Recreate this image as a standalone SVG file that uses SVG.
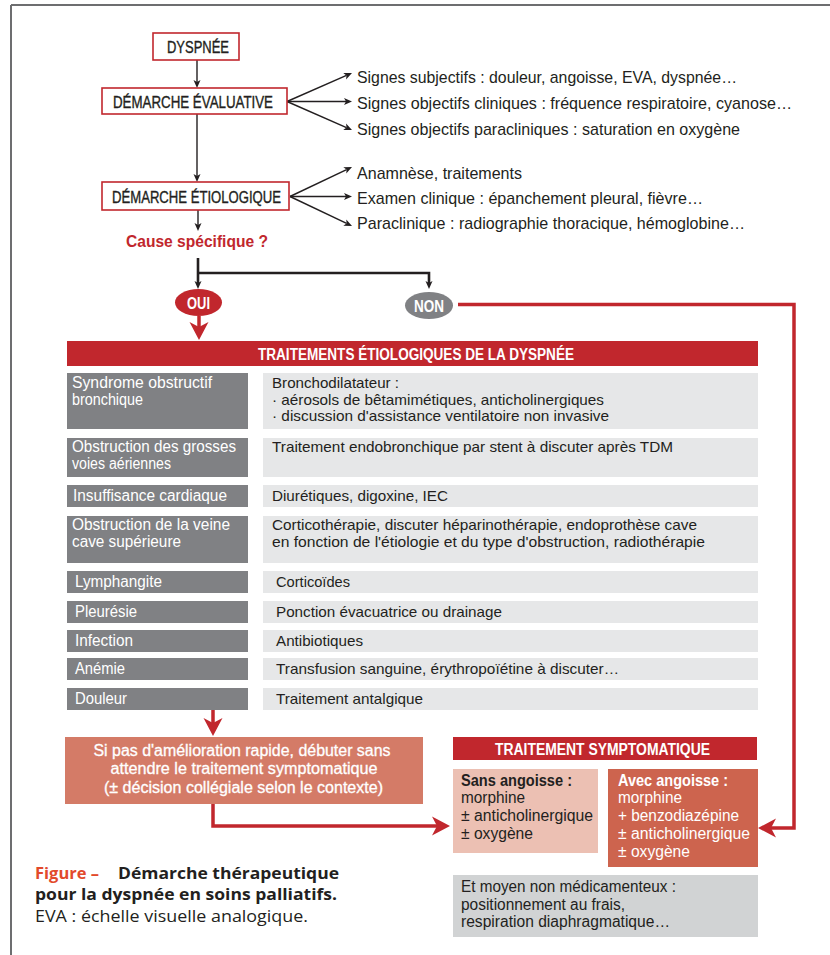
<svg xmlns="http://www.w3.org/2000/svg" width="830" height="955" viewBox="0 0 830 955">
<style>
text{font-family:"Liberation Sans",Arial,sans-serif;fill:#231f20}
.t17{font-size:17px}
.t16{font-size:16px}
.t15{font-size:15px}
.w{fill:#fff}
.b{font-weight:bold}
.md{stroke:#231f20;stroke-width:0.35}
.mw{stroke:#fff;stroke-width:0.3}
.mid{text-anchor:middle}
.red{fill:#c1272d}
.box{fill:#fff;stroke:#c1272d;stroke-width:1.6}
.lc{fill:#808184}
.rc{fill:#e6e7e8}
.blk{fill:none;stroke:#231f20;stroke-width:1.4}
.blk2{fill:none;stroke:#231f20;stroke-width:2.6}
.rl{fill:none;stroke:#c1272d;stroke-width:3.5}
.cap{font-family:"Open Sans","Noto Sans",sans-serif;font-size:16.5px}
</style>
<defs>
<marker id="ab" markerUnits="userSpaceOnUse" markerWidth="8" markerHeight="7" refX="2" refY="3.5" orient="auto" overflow="visible"><path d="M0,0 L8,3.5 L0,7 L2,3.5 z" fill="#231f20"/></marker>
<marker id="ar" markerUnits="userSpaceOnUse" markerWidth="18" markerHeight="19" refX="5" refY="9.5" orient="auto" overflow="visible"><path d="M0,0 L18,9.5 L0,19 L5,9.5 z" fill="#c1272d"/></marker>
</defs>

<g id="frame"><path d="M11,5 H830 M11,5 V955" fill="none" stroke="#6d6e70" stroke-width="2"/></g>

<g id="connectors">
<path class="blk" d="M197,60 V82" marker-end="url(#ab)"/>
<path class="blk" d="M197,114 V176" marker-end="url(#ab)"/>
<path class="blk" d="M198,210 V225" marker-end="url(#ab)"/>
<path class="blk" d="M287,101.5 L346.5,75.4" marker-end="url(#ab)"/>
<path class="blk" d="M287,101.5 L346,101.5" marker-end="url(#ab)"/>
<path class="blk" d="M287,101.5 L346.5,127.6" marker-end="url(#ab)"/>
<path class="blk" d="M290,196.5 L346.6,169.6" marker-end="url(#ab)"/>
<path class="blk" d="M290,196.5 L346,196.5" marker-end="url(#ab)"/>
<path class="blk" d="M290,196.5 L346.6,223.4" marker-end="url(#ab)"/>
<path class="blk2" d="M198,258 V283" marker-end="url(#ab)"/>
<path class="blk2" d="M198,273 H429 V283" marker-end="url(#ab)"/>
<path class="rl" d="M199,316 V327" marker-end="url(#ar)"/>
<path class="rl" d="M458,304.5 H794 V828 H771" marker-end="url(#ar)"/>
<path class="rl" d="M213,710 V723" marker-end="url(#ar)"/>
<path class="rl" d="M213,804 V826 H437" marker-end="url(#ar)"/>
</g>

<g id="dyspnee"><rect class="box" x="153" y="33" width="86" height="27"/><text class="t16 md mid" x="198" y="53" textLength="62" lengthAdjust="spacingAndGlyphs">DYSPNÉE</text></g>
<g id="evaluative"><rect class="box" x="102" y="88" width="185" height="26"/><text class="t16 md mid" x="193" y="108" textLength="160" lengthAdjust="spacingAndGlyphs">DÉMARCHE ÉVALUATIVE</text></g>
<g id="etiologique"><rect class="box" x="102" y="182" width="187" height="28"/><text class="t16 md mid" x="196.5" y="203" textLength="169" lengthAdjust="spacingAndGlyphs">DÉMARCHE ÉTIOLOGIQUE</text></g>
<g id="signes">
<text class="t17" x="357" y="83" textLength="380" lengthAdjust="spacingAndGlyphs">Signes subjectifs : douleur, angoisse, EVA, dyspnée…</text>
<text class="t17" x="357" y="109" textLength="435" lengthAdjust="spacingAndGlyphs">Signes objectifs cliniques : fréquence respiratoire, cyanose…</text>
<text class="t17" x="357" y="135" textLength="383" lengthAdjust="spacingAndGlyphs">Signes objectifs paracliniques : saturation en oxygène</text>
</g>
<g id="etio-items">
<text class="t17" x="357" y="179" textLength="165" lengthAdjust="spacingAndGlyphs">Anamnèse, traitements</text>
<text class="t17" x="357" y="204" textLength="346" lengthAdjust="spacingAndGlyphs">Examen clinique : épanchement pleural, fièvre…</text>
<text class="t17" x="357" y="229" textLength="388" lengthAdjust="spacingAndGlyphs">Paraclinique : radiographie thoracique, hémoglobine…</text>
</g>
<g id="cause"><text class="b red" style="font-size:17px" x="126" y="247" textLength="142" lengthAdjust="spacingAndGlyphs">Cause spécifique ?</text></g>
<g id="oui"><ellipse cx="198.5" cy="302.5" rx="23.5" ry="13.5" fill="#c1272d"/><text class="t16 b w mid" x="198.5" y="308.5" textLength="23" lengthAdjust="spacingAndGlyphs">OUI</text></g>
<g id="non"><ellipse cx="429" cy="305.5" rx="24" ry="13.5" fill="#808184"/><text class="t16 b w mid" x="429" y="311.5" textLength="30" lengthAdjust="spacingAndGlyphs">NON</text></g>

<g id="table">
<rect x="67" y="341" width="691" height="25" fill="#c1272d"/>
<text class="t16 b w mid" x="416" y="360" textLength="316" lengthAdjust="spacingAndGlyphs">TRAITEMENTS ÉTIOLOGIQUES DE LA DYSPNÉE</text>
<g class="lc">
<rect x="67" y="373" width="181" height="56"/>
<rect x="67" y="438" width="181" height="39"/>
<rect x="67" y="485" width="181" height="22"/>
<rect x="67" y="516" width="181" height="47"/>
<rect x="67" y="571" width="181" height="22"/>
<rect x="67" y="601" width="181" height="22"/>
<rect x="67" y="630" width="181" height="22"/>
<rect x="67" y="658" width="181" height="22"/>
<rect x="67" y="688" width="181" height="22"/>
</g>
<g class="rc">
<rect x="263" y="373" width="495" height="56"/>
<rect x="263" y="438" width="495" height="39"/>
<rect x="263" y="485" width="495" height="22"/>
<rect x="263" y="516" width="495" height="47"/>
<rect x="263" y="571" width="495" height="22"/>
<rect x="263" y="601" width="495" height="22"/>
<rect x="263" y="630" width="495" height="22"/>
<rect x="263" y="658" width="495" height="22"/>
<rect x="263" y="688" width="495" height="22"/>
</g>
<text class="t16 w" x="72" y="388" textLength="140" lengthAdjust="spacingAndGlyphs">Syndrome obstructif</text>
<text class="t16 w" x="72" y="405" textLength="71" lengthAdjust="spacingAndGlyphs">bronchique</text>
<text class="t16 w" x="72" y="452" textLength="164" lengthAdjust="spacingAndGlyphs">Obstruction des grosses</text>
<text class="t16 w" x="72" y="469" textLength="99" lengthAdjust="spacingAndGlyphs">voies aériennes</text>
<text class="t16 w" x="73" y="501" textLength="154" lengthAdjust="spacingAndGlyphs">Insuffisance cardiaque</text>
<text class="t16 w" x="72" y="530" textLength="158" lengthAdjust="spacingAndGlyphs">Obstruction de la veine</text>
<text class="t16 w" x="72" y="547" textLength="109" lengthAdjust="spacingAndGlyphs">cave supérieure</text>
<text class="t16 w" x="75" y="587" textLength="87" lengthAdjust="spacingAndGlyphs">Lymphangite</text>
<text class="t16 w" x="75" y="617" textLength="62" lengthAdjust="spacingAndGlyphs">Pleurésie</text>
<text class="t16 w" x="75" y="646" textLength="58" lengthAdjust="spacingAndGlyphs">Infection</text>
<text class="t16 w" x="75" y="674" textLength="50" lengthAdjust="spacingAndGlyphs">Anémie</text>
<text class="t16 w" x="75" y="704" textLength="52" lengthAdjust="spacingAndGlyphs">Douleur</text>
<text class="t15" x="272" y="388" textLength="127" lengthAdjust="spacingAndGlyphs">Bronchodilatateur :</text>
<text class="t15" x="272" y="404.5" textLength="332" lengthAdjust="spacingAndGlyphs">· aérosols de bêtamimétiques, anticholinergiques</text>
<text class="t15" x="272" y="421" textLength="337" lengthAdjust="spacingAndGlyphs">· discussion d'assistance ventilatoire non invasive</text>
<text class="t15" x="272" y="452" textLength="401" lengthAdjust="spacingAndGlyphs">Traitement endobronchique par stent à discuter après TDM</text>
<text class="t15" x="272" y="501" textLength="176" lengthAdjust="spacingAndGlyphs">Diurétiques, digoxine, IEC</text>
<text class="t15" x="272" y="530" textLength="425" lengthAdjust="spacingAndGlyphs">Corticothérapie, discuter héparinothérapie, endoprothèse cave</text>
<text class="t15" x="272" y="546.5" textLength="433" lengthAdjust="spacingAndGlyphs">en fonction de l'étiologie et du type d'obstruction, radiothérapie</text>
<text class="t15" x="276" y="587" textLength="74" lengthAdjust="spacingAndGlyphs">Corticoïdes</text>
<text class="t15" x="276" y="617" textLength="226" lengthAdjust="spacingAndGlyphs">Ponction évacuatrice ou drainage</text>
<text class="t15" x="276" y="646" textLength="87" lengthAdjust="spacingAndGlyphs">Antibiotiques</text>
<text class="t15" x="276" y="674" textLength="343" lengthAdjust="spacingAndGlyphs">Transfusion sanguine, érythropoïétine à discuter…</text>
<text class="t15" x="276" y="704" textLength="147" lengthAdjust="spacingAndGlyphs">Traitement antalgique</text>
</g>

<g id="si-pas">
<rect x="65" y="737" width="358" height="67" fill="#d47b67"/>
<text class="t16 w mw mid" x="242" y="756" textLength="297" lengthAdjust="spacingAndGlyphs">Si pas d'amélioration rapide, débuter sans</text>
<text class="t16 w mw mid" x="244" y="774" textLength="267" lengthAdjust="spacingAndGlyphs">attendre le traitement symptomatique</text>
<text class="t16 w mw mid" x="243.5" y="793" textLength="279" lengthAdjust="spacingAndGlyphs">(± décision collégiale selon le contexte)</text>
</g>

<g id="symptomatique">
<rect x="453" y="737" width="304" height="23" fill="#c1272d"/>
<text class="t16 b w mid" x="602.5" y="754.5" textLength="215" lengthAdjust="spacingAndGlyphs">TRAITEMENT SYMPTOMATIQUE</text>
</g>
<g id="sans-angoisse">
<rect x="453" y="769" width="145" height="84" fill="#ecc0b3"/>
<text class="t16 b" x="461" y="786" textLength="111" lengthAdjust="spacingAndGlyphs">Sans angoisse :</text>
<text class="t16" x="461" y="803" textLength="64" lengthAdjust="spacingAndGlyphs">morphine</text>
<text class="t16" x="461" y="821" textLength="132" lengthAdjust="spacingAndGlyphs">± anticholinergique</text>
<text class="t16" x="461" y="838.5" textLength="72" lengthAdjust="spacingAndGlyphs">± oxygène</text>
</g>
<g id="avec-angoisse">
<rect x="608" y="769" width="150" height="98" fill="#cd644e"/>
<text class="t16 b w" x="618" y="786" textLength="110" lengthAdjust="spacingAndGlyphs">Avec angoisse :</text>
<text class="t16 w" x="618" y="803" textLength="64" lengthAdjust="spacingAndGlyphs">morphine</text>
<text class="t16 w" x="618" y="821" textLength="121" lengthAdjust="spacingAndGlyphs">+ benzodiazépine</text>
<text class="t16 w" x="618" y="839" textLength="132" lengthAdjust="spacingAndGlyphs">± anticholinergique</text>
<text class="t16 w" x="618" y="857" textLength="72" lengthAdjust="spacingAndGlyphs">± oxygène</text>
</g>
<g id="non-medicamenteux">
<rect x="453" y="875" width="305" height="62" fill="#d1d3d4"/>
<text class="t16" x="461" y="892" textLength="215" lengthAdjust="spacingAndGlyphs">Et moyen non médicamenteux :</text>
<text class="t16" x="461" y="909.5" textLength="164" lengthAdjust="spacingAndGlyphs">positionnement au frais,</text>
<text class="t16" x="461" y="927" textLength="209" lengthAdjust="spacingAndGlyphs">respiration diaphragmatique…</text>
</g>

<g id="caption">
<text class="cap" x="35" y="879" style="font-weight:700;fill:#e2492b" textLength="64" lengthAdjust="spacingAndGlyphs">Figure –</text>
<text class="cap" x="118" y="879" style="font-weight:700" textLength="221" lengthAdjust="spacingAndGlyphs">Démarche thérapeutique</text>
<text class="cap" x="35" y="900" style="font-weight:700" textLength="302" lengthAdjust="spacingAndGlyphs">pour la dyspnée en soins palliatifs.</text>
<text class="cap" x="35" y="922" textLength="273" lengthAdjust="spacingAndGlyphs">EVA : échelle visuelle analogique.</text>
</g>
</svg>
